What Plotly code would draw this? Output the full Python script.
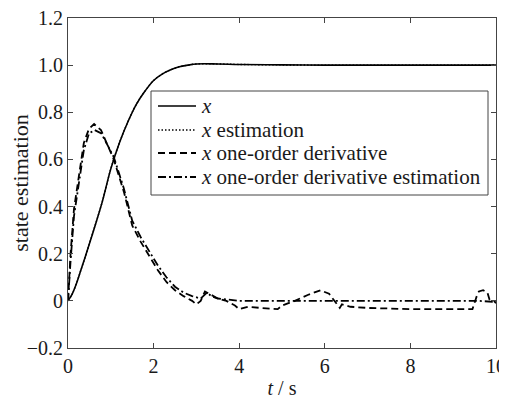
import plotly.graph_objects as go

# ---- data ----
t_x = [0, 0.1, 0.2, 0.3, 0.4, 0.6, 0.8, 1.0, 1.2, 1.4, 1.6, 1.8, 2.0, 2.2, 2.4, 2.6, 2.8,
       3.0, 3.5, 4.0, 5.0, 6.0, 7.0, 8.0, 9.0, 10.0]
x_true = [0, 0.03, 0.075, 0.13, 0.185, 0.30, 0.42, 0.56, 0.67, 0.76, 0.835, 0.89, 0.935,
          0.962, 0.98, 0.993, 1.0, 1.005, 1.005, 1.003, 1.001, 1.0, 1.0, 1.0, 1.0, 1.0]
x_est = [0, 0.03, 0.075, 0.13, 0.185, 0.30, 0.42, 0.56, 0.67, 0.76, 0.835, 0.89, 0.935,
         0.962, 0.98, 0.993, 1.0, 1.005, 1.005, 1.003, 1.001, 1.0, 1.0, 1.0, 1.0, 1.0]

t_d = [0, 0.03, 0.06, 0.14, 0.26, 0.37, 0.49, 0.61, 0.77, 0.96, 1.07, 1.31, 1.5, 1.7, 1.9,
       2.1, 2.3, 2.5, 2.7, 2.9, 3.0, 3.1, 3.2, 3.3, 3.5, 3.7, 3.9, 4.0, 4.2, 4.5, 4.9, 5.0,
       5.3, 5.6, 5.9, 6.1, 6.3, 6.35, 6.4, 6.6, 7.0, 8.0, 9.0, 9.45, 9.55, 9.6, 9.7, 9.8,
       9.85, 9.95, 10.0]
dx_true = [0, 0.12, 0.2, 0.39, 0.53, 0.67, 0.73, 0.75, 0.725, 0.65, 0.60, 0.46, 0.32, 0.25,
           0.19, 0.13, 0.08, 0.045, 0.02, 0.0, -0.015, 0.0, 0.04, 0.03, 0.01, 0.0, -0.02,
           -0.035, -0.025, -0.03, -0.035, -0.02, 0.0, 0.025, 0.045, 0.03, -0.02, -0.03,
           -0.015, -0.025, -0.03, -0.035, -0.035, -0.035, 0.02, 0.04, 0.045, 0.035, 0.005,
           0.0, -0.01]

t_de = [0, 0.03, 0.06, 0.14, 0.26, 0.37, 0.49, 0.62, 0.78, 0.96, 1.07, 1.3, 1.5, 1.7, 1.9,
        2.1, 2.3, 2.5, 2.7, 2.9, 3.1, 3.25, 3.35, 3.5, 4.0, 4.5, 5.0, 6.0, 7.0, 8.0, 9.0,
        9.6, 10.0]
dx_est = [0, 0.09, 0.17, 0.36, 0.50, 0.64, 0.71, 0.725, 0.71, 0.65, 0.61, 0.48, 0.34, 0.27,
          0.21, 0.15, 0.10, 0.06, 0.035, 0.02, 0.01, 0.035, 0.02, 0.01, 0.0, 0.0, 0.0, 0.0,
          0.0, 0.0, 0.0, 0.0, -0.005]

series_names = ["<i>x</i>", "<i>x</i> estimation", "<i>x</i> one-order derivative",
                "<i>x</i> one-order derivative estimation"]

x_ticks = [0, 2, 4, 6, 8, 10]
y_ticks = [-0.2, 0, 0.2, 0.4, 0.6, 0.8, 1.0, 1.2]
y_tick_text = ["\u22120.2", "0", "0.2", "0.4", "0.6", "0.8", "1.0", "1.2"]

FONT = "Liberation Serif"
TXT = "#1a1a1a"

styles = [
    dict(color="black", width=1.6, dash="solid"),
    dict(color="black", width=1.4, dash="1.5px,2px"),
    dict(color="black", width=1.8, dash="7px,4px"),
    dict(color="black", width=1.8, dash="8px,3px,2px,3px"),
]

fig = go.Figure()
fig.add_trace(go.Scatter(x=t_x, y=x_true, mode="lines", name=series_names[0],
                         line=dict(**styles[0], shape="spline"), showlegend=False))
fig.add_trace(go.Scatter(x=t_x, y=x_est, mode="lines", name=series_names[1],
                         line=dict(**styles[1], shape="spline"), showlegend=False))
fig.add_trace(go.Scatter(x=t_d, y=dx_true, mode="lines", name=series_names[2],
                         line=styles[2], showlegend=False))
fig.add_trace(go.Scatter(x=t_de, y=dx_est, mode="lines", name=series_names[3],
                         line=styles[3], showlegend=False))

axis_common = dict(showgrid=False, zeroline=False, showline=True, linecolor="#444",
                   linewidth=1, mirror="ticks", ticks="inside", ticklen=5,
                   tickcolor="#444", automargin=False, ticklabeloverflow="allow",
                   tickfont=dict(family=FONT, size=20, color=TXT))

fig.update_xaxes(range=[0, 10], tickvals=x_ticks, ticktext=[str(v) for v in x_ticks],
                 title=dict(text="<i>t</i> / s", font=dict(family=FONT, size=20, color=TXT),
                            standoff=4),
                 **axis_common)
fig.update_yaxes(range=[-0.2, 1.2], tickvals=y_ticks, ticktext=y_tick_text,
                 title=dict(text="state estimation", font=dict(family=FONT, size=22, color=TXT),
                            standoff=4),
                 **axis_common)

# The page body adds an 8px margin, so the figure is drawn 8px smaller and
# everything is positioned in figure pixels (page pixel - 8).
OFF = 8
FIG_W, FIG_H = 507 - OFF, 400 - OFF
L, T, R, B = 68 - OFF, 18 - OFF, 496 - OFF, 348 - OFF
W, H = R - L, B - T

def px(xp):
    return (xp - OFF - L) / W

def py(yp):
    return (B - (yp - OFF)) / H

shapes = [dict(type="rect", xref="paper", yref="paper",
               x0=px(151), x1=px(488), y0=py(195), y1=py(91),
               line=dict(color="#444", width=1), fillcolor="white", layer="above")]
annotations = []
row_y = [106, 130, 153, 177]
for name, st, ry in zip(series_names, styles, row_y):
    shapes.append(dict(type="line", xref="paper", yref="paper",
                       x0=px(158), x1=px(196), y0=py(ry), y1=py(ry),
                       line=dict(color=st["color"], width=st["width"], dash=st["dash"]),
                       layer="above"))
    annotations.append(dict(xref="paper", yref="paper", x=px(199), y=py(ry),
                            xanchor="left", yanchor="middle", text=name, showarrow=False,
                            font=dict(family=FONT, size=21, color=TXT)))

fig.update_layout(
    width=FIG_W, height=FIG_H,
    margin=dict(l=L, r=FIG_W - R, t=T, b=FIG_H - B),
    paper_bgcolor="white", plot_bgcolor="white",
    showlegend=False,
    shapes=shapes, annotations=annotations,
)

fig.write_html("out.html")
